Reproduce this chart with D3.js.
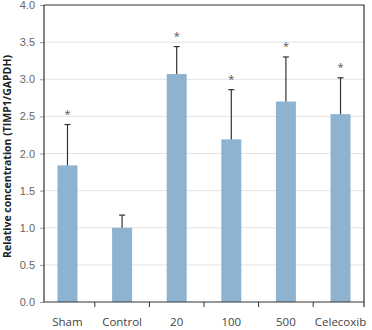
<!DOCTYPE html>
<html>
<head>
<meta charset="utf-8">
<script src="https://cdn.jsdelivr.net/npm/d3@7"></script>
<style>
  body { margin: 0; background: #fff; }
  svg { display: block; }
</style>
</head>
<body>
<div id="chart"></div>
<script>
// Relative TIMP1 expression by treatment group
const groups = ['Sham', 'Control', '20', '100', '500', 'Celecoxib'];
const means = [1.84, 1.00, 3.07, 2.19, 2.70, 2.53];
const errors = [0.55, 0.17, 0.37, 0.67, 0.60, 0.49];
const significant = [true, false, true, true, true, true];
const yTicks = [0, 0.5, 1.0, 1.5, 2.0, 2.5, 3.0, 3.5, 4.0];

const width = 372, height = 330;
const margin = { top: 5, right: 8, bottom: 28, left: 44 };

const svg = d3.select('#chart').append('svg')
    .attr('width', width)
    .attr('height', height)
    .style('font-family', '"Open Sans", "Noto Sans", sans-serif');

const x = d3.scalePoint()
    .domain(groups)
    .range([margin.left, width - margin.right])
    .padding(0.43);

const y = d3.scaleLinear()
    .domain([0, 4])
    .range([height - margin.bottom, margin.top]);

const barW = 20;
const step = x.step();

// Gridlines
svg.append('g')
    .selectAll('line')
    .data(yTicks.filter(d => d > 0 && d < 4))
    .join('line')
    .attr('x1', margin.left)
    .attr('x2', width - margin.right)
    .attr('y1', d => y(d))
    .attr('y2', d => y(d))
    .attr('stroke', '#e4e4e4')
    .attr('stroke-width', 1);

// Y axis
const yAxis = svg.append('g')
    .attr('transform', `translate(${margin.left},0)`)
    .call(d3.axisLeft(y).tickValues(yTicks).tickFormat(d3.format('.1f')).tickSize(4).tickPadding(5));
yAxis.select('.domain').remove();
yAxis.selectAll('.tick line').attr('stroke', '#999');
yAxis.selectAll('.tick text')
    .attr('fill', '#666')
    .style('font-size', '11px');

// Bars
svg.append('g')
    .selectAll('rect')
    .data(groups)
    .join('rect')
    .attr('x', d => x(d) - barW / 2)
    .attr('y', (d, i) => y(means[i]))
    .attr('width', barW)
    .attr('height', (d, i) => y(0) - y(means[i]))
    .attr('fill', '#8db3d1');

// Error bars (upper only)
const err = svg.append('g')
    .attr('stroke', '#333')
    .attr('stroke-width', 1.2);
err.selectAll('line.v')
    .data(groups)
    .join('line')
    .attr('class', 'v')
    .attr('x1', d => x(d))
    .attr('x2', d => x(d))
    .attr('y1', (d, i) => y(means[i]))
    .attr('y2', (d, i) => y(means[i] + errors[i]));
err.selectAll('line.cap')
    .data(groups)
    .join('line')
    .attr('class', 'cap')
    .attr('x1', d => x(d) - 3)
    .attr('x2', d => x(d) + 3)
    .attr('y1', (d, i) => y(means[i] + errors[i]))
    .attr('y2', (d, i) => y(means[i] + errors[i]));

// Significance markers
svg.append('g')
    .selectAll('text')
    .data(groups.filter((d, i) => significant[i]))
    .join('text')
    .attr('x', d => x(d))
    .attr('y', d => {
        const i = groups.indexOf(d);
        return y(means[i] + errors[i]) - 7;
    })
    .attr('text-anchor', 'middle')
    .attr('fill', '#555')
    .style('font-size', '11px')
    .text('*');

// Frame: left, bottom, top, right
const x0 = margin.left, x1 = width - margin.right;
const y0 = margin.top, y1 = height - margin.bottom;
svg.append('path')
    .attr('d', `M${x0},${y0}H${x1}V${y1 + 5}M${x0},${y0}V${y1}H${x1}`)
    .attr('fill', 'none')
    .attr('stroke', '#333')
    .attr('stroke-width', 1.2);

// X tick marks between categories
svg.append('g')
    .selectAll('line')
    .data(groups.slice(1))
    .join('line')
    .attr('x1', d => x(d) - step / 2)
    .attr('x2', d => x(d) - step / 2)
    .attr('y1', y1)
    .attr('y2', y1 + 5)
    .attr('stroke', '#333')
    .attr('stroke-width', 1);

// X labels
svg.append('g')
    .selectAll('text')
    .data(groups)
    .join('text')
    .attr('x', d => x(d))
    .attr('y', height - 4)
    .attr('text-anchor', 'middle')
    .attr('fill', '#444')
    .style('font-size', '11.5px')
    .text(d => d);

// Y axis title
svg.append('text')
    .attr('transform', `translate(11,${(y0 + y1) / 2 + 3}) rotate(-90)`)
    .attr('text-anchor', 'middle')
    .attr('fill', '#222')
    .style('font-size', '10.5px')
    .style('font-weight', 'bold')
    .text('Relative concentration (TIMP1/GAPDH)');
</script>
</body>
</html>
